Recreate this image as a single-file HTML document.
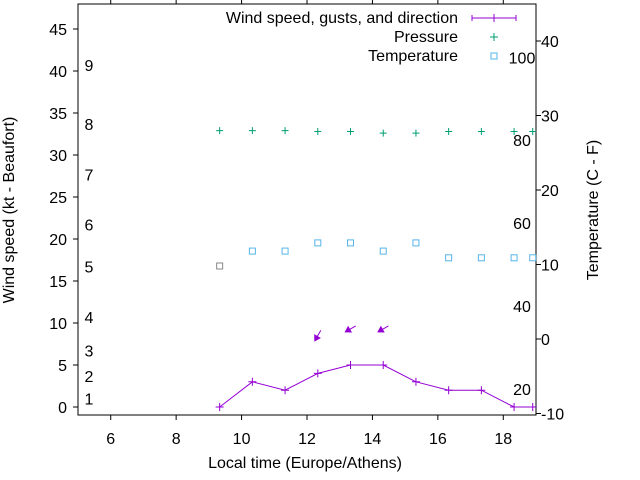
<!DOCTYPE html>
<html><head><meta charset="utf-8"><style>
body{margin:0;background:#fff}
svg{display:block;font-family:"Liberation Sans",sans-serif;font-size:16px}
</style></head><body>
<svg id="c" width="640" height="480"></svg>
<script>
const times=[9.33,10.33,11.33,12.33,13.33,14.33,15.33,16.33,17.33,18.33,18.9];
const wind=[0,3,2,4,5,5,3,2,2,0,0];
const pressure=[32.9,32.9,32.9,32.8,32.8,32.6,32.6,32.8,32.8,32.8,32.8];
const temperature=[9.8,11.8,11.8,12.9,12.9,11.8,12.9,10.9,10.9,10.9,10.9];
const arrowTimes=[12.33,13.33,14.33];
const arrowSpeeds=[8.5,9.3,9.3];
const arrowDirs=[30,60,60];
const xTicks=[6,8,10,12,14,16,18];
const yTicks=[0,5,10,15,20,25,30,35,40,45];
const y2Ticks=[-10,0,10,20,30,40];
const beaufort=[[1,1],[2,3.7],[3,6.7],[4,10.7],[5,16.7],[6,21.7],[7,27.7],[8,33.7],[9,40.7]];
const fahr=[[20,-6.7],[40,4.4],[60,15.6],[80,26.7],[100,37.8]];
const L=78,R=536,T=4,B=415;
const X=v=>L+(v-5)/14*(R-L);
const Y=v=>407-v*8.4;
const Y2=v=>339-v*7.45;
const svg=document.getElementById('c');
const NS='http://www.w3.org/2000/svg';
function mk(tag,attrs,parent){const e=document.createElementNS(NS,tag);for(const k in attrs)e.setAttribute(k,attrs[k]);(parent||svg).appendChild(e);return e;}
function txt(x,y,s,anchor,name){const t=mk('text',{x:x,y:y,'text-anchor':anchor||'start',fill:'#000'});t.textContent=s;


return t;}
const frame=mk('rect',{x:L,y:T,width:R-L,height:B-T,fill:'none',stroke:'#000'});


xTicks.forEach(v=>{mk('line',{x1:X(v),x2:X(v),y1:B,y2:B+5,stroke:'#000'});mk('line',{x1:X(v),x2:X(v),y1:T,y2:T-5,stroke:'#000'});txt(X(v),444,String(v),'middle','x-tick-label');});
yTicks.forEach(v=>{mk('line',{x1:L-5,x2:L,y1:Y(v),y2:Y(v),stroke:'#000'});txt(67,Y(v)+6,String(v),'end','y-tick-label');});
y2Ticks.forEach(v=>{mk('line',{x1:R,x2:R+5,y1:Y2(v),y2:Y2(v),stroke:'#000'});txt(541,Y2(v)+6,String(v),'start','y2-tick-label');});
beaufort.forEach(b=>txt(89,Y(b[1])+6,String(b[0]),'middle','beaufort-label'));
fahr.forEach(f=>txt(522,Y2(f[1])+6,String(f[0]),'middle','fahrenheit-label'));
const yt=txt(14,210,'Wind speed (kt - Beaufort)','middle','y-axis-title');yt.setAttribute('transform','rotate(-90 14 210)');
const y2t=txt(598,210,'Temperature (C - F)','middle','y2-axis-title');y2t.setAttribute('transform','rotate(-90 598 210)');
txt(305,468,'Local time (Europe/Athens)','middle','x-axis-title');
const pl=mk('polyline',{points:times.map((t,i)=>X(t)+','+Y(wind[i])).join(' '),fill:'none',stroke:'#9400d3','stroke-width':1});


times.forEach((t,i)=>{const g=mk('path',{d:`M${X(t)-4},${Y(wind[i])}h8M${X(t)},${Y(wind[i])-4}v8`,stroke:'#9400d3'});

});
arrowTimes.forEach((t,i)=>{const a=arrowDirs[i]*Math.PI/180;const x0=X(t)+6*Math.sin(a),y0=Y(arrowSpeeds[i])-6*Math.cos(a);const x1=X(t)-6*Math.sin(a),y1=Y(arrowSpeeds[i])+6*Math.cos(a);
const dx=x1-x0,dy=y1-y0,len=Math.hypot(dx,dy),ux=dx/len,uy=dy/len;
const g=mk('path',{d:`M${x0},${y0}L${x1},${y1}M${x1},${y1}L${x1-5*ux+3*uy},${y1-5*uy-3*ux}L${x1-5*ux-3*uy},${y1-5*uy+3*ux}Z`,stroke:'#9400d3',fill:'#9400d3'});

});
pressure.forEach((p,i)=>{const g=mk('path',{d:`M${X(times[i])-3.5},${Y(p)}h7M${X(times[i])},${Y(p)-3.5}v7`,stroke:'#009e73'});

});
temperature.forEach((v,i)=>{const g=mk('rect',{x:X(times[i])-3,y:Y2(v)-3,width:6,height:6,fill:'none',stroke:i==0?'#888':'#56b4e9'});

});
txt(458,23,'Wind speed, gusts, and direction','end','legend-wind');
mk('path',{d:'M472,18h44M472,15v6M516,15v6M494,14v8',stroke:'#9400d3'});
txt(458,42,'Pressure','end','legend-pressure');
mk('path',{d:'M490,37h8M494,33v8',stroke:'#009e73'});
txt(458,61,'Temperature','end','legend-temperature');
mk('rect',{x:491,y:53,width:6,height:6,fill:'none',stroke:'#56b4e9'});
</script>
</body></html>
